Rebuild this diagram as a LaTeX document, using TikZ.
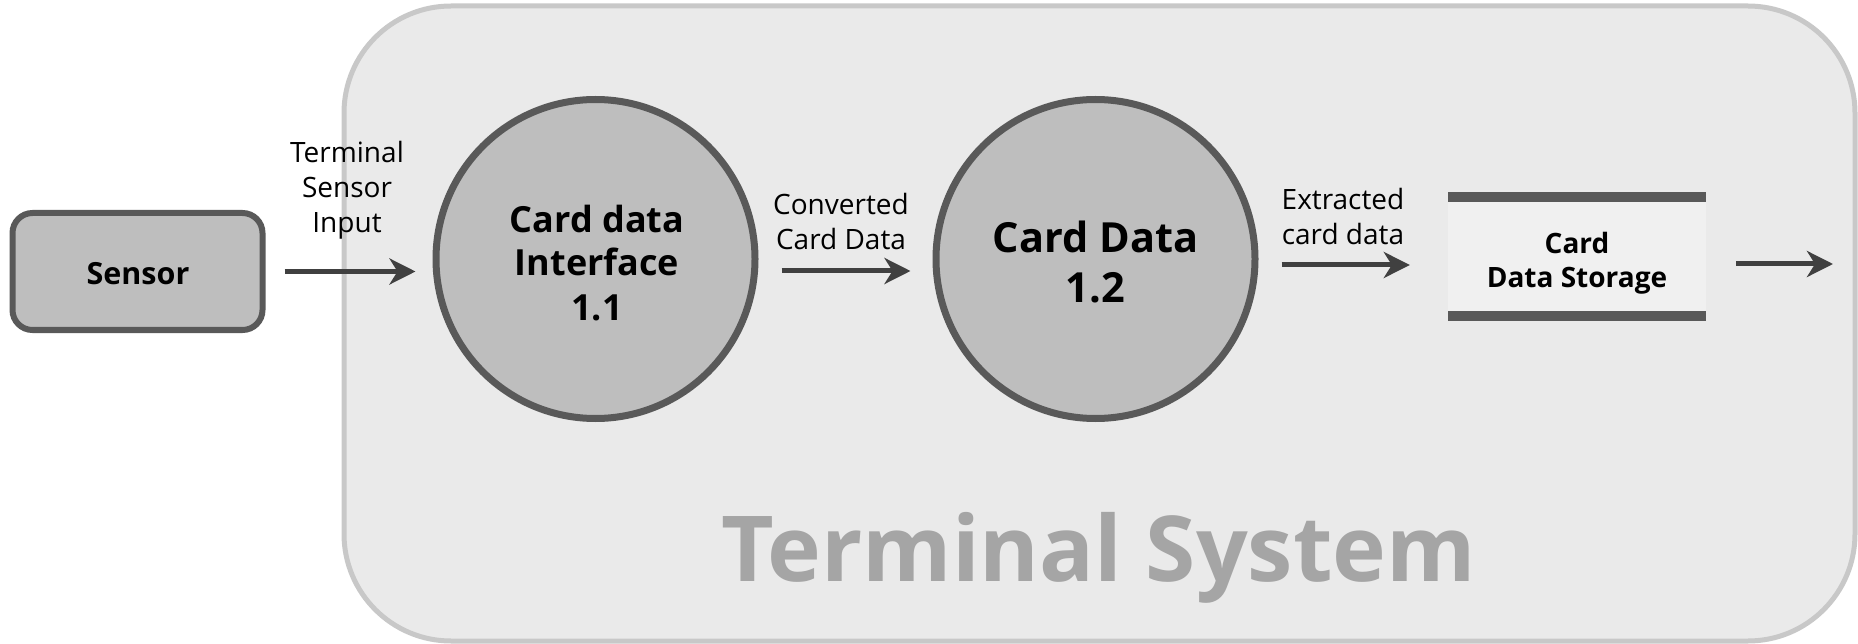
\documentclass[tikz,border=0pt]{standalone}
\usepackage{fontspec}
\setmainfont{Open Sans}
\usetikzlibrary{arrows.meta}
\definecolor{sysfill}{HTML}{EAEAEA}
\definecolor{sysline}{HTML}{C8C8C8}
\definecolor{procfill}{HTML}{BEBEBE}
\definecolor{procline}{HTML}{595959}
\definecolor{storefill}{HTML}{F0F0F0}
\definecolor{flowline}{HTML}{404040}
\definecolor{systext}{HTML}{A5A5A5}
\tikzset{
  x=1pt, y=-1pt,
  process/.style={circle, draw=procline, fill=procfill, line width=7pt,
    minimum size=319pt, inner sep=0pt},
  entity/.style={draw=procline, fill=procfill, line width=6pt,
    rounded corners=20pt, minimum width=250pt, minimum height=117pt, inner sep=0pt},
  flow/.style={draw=flowline, line width=5pt,
    -{Stealth[length=26pt, width=26pt, inset=8pt]}},
  % multi-line labels are placed by the baseline of their last line
  flowlabel/.style={align=center, inner sep=0pt, anchor=base,
    font=\fontsize{28}{35}\selectfont},
}
\begin{document}
\begin{tikzpicture}
\useasboundingbox (0,0) rectangle (1858,644);
% system boundary
\node[name=sys, draw=sysline, fill=sysfill, line width=5pt, rounded corners=107pt,
  minimum width=1511pt, minimum height=635pt, inner sep=0pt] at (1099.5,323.5) {};
\node[name=systitle, anchor=base, inner sep=0pt, text=systext,
  font=\fontsize{91}{110}\selectfont\bfseries] at (1098.5,581) {Terminal System};
% external entity
\node[entity, name=sensor] at (137.5,271.5) {};
\node[name=sensortext, anchor=base, inner sep=0pt,
  font=\fontsize{30.5}{36}\selectfont\bfseries] at (138,285) {Sensor};
% processes
\node[process, name=p1] at (595.5,259) {};
\node[name=p1text, anchor=base, align=center, inner sep=0pt,
  font=\fontsize{36}{44}\selectfont\bfseries] at (597,320) {Card data\\Interface\\1.1};
\node[process, name=p2] at (1095.5,259) {};
\node[name=p2text, anchor=base, align=center, inner sep=0pt,
  font=\fontsize{41.5}{50}\selectfont\bfseries] at (1095.5,302) {Card Data\\1.2};
% data store
\node[name=store, fill=storefill, minimum width=258pt, minimum height=129pt,
  inner sep=0pt] at (1577,256.5) {};
\fill[procline] (store.north west) rectangle ([yshift=-10pt]store.north east);
\fill[procline] ([yshift=10pt]store.south west) rectangle (store.south east);
\node[name=storetext, anchor=base, align=center, inner sep=0pt,
  font=\fontsize{28}{35}\selectfont\bfseries] at (1577,288) {Card\\Data Storage};
% data flows
\coordinate (sink) at (1833,264);
\draw[flow] ([xshift=19pt]sensor.east) -- ([xshift=-17pt]p1.west |- sensor.east);
\draw[flow] ([shift={(23,12)}]p1.east) -- ([shift={(-22,12)}]p2.west);
\draw[flow] ([shift={(23,6)}]p2.east) -- ([shift={(-38,8.5)}]store.west);
\draw[flow] ([shift={(30,7.5)}]store.east) -- (sink);
% flow labels
\node[flowlabel, name=l1] at (347,233) {Terminal\\Sensor\\Input};
\node[flowlabel, name=l2] at (841,250) {Converted\\Card Data};
\node[flowlabel, name=l3] at (1343,245) {Extracted\\card data};
\end{tikzpicture}
\end{document}
